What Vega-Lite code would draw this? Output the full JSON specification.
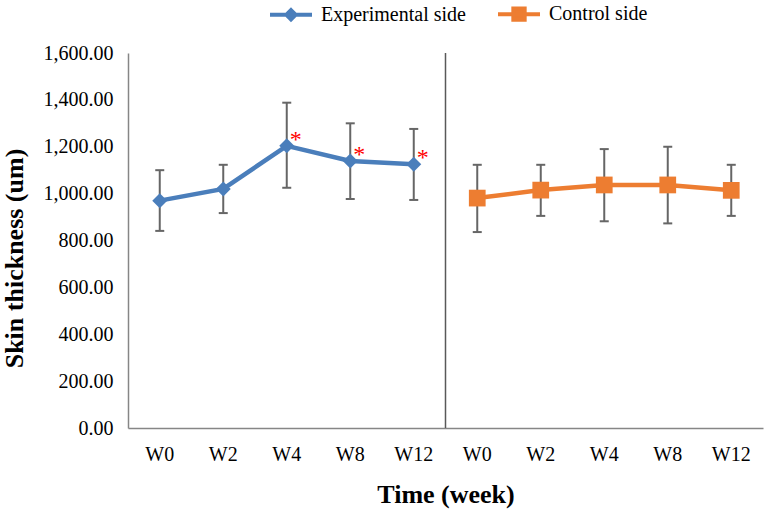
{
  "$schema": "https://vega.github.io/schema/vega-lite/v6.json",
  "width": 635,
  "height": 375,
  "autosize": "none",
  "padding": {"left": 128, "top": 53, "right": 4, "bottom": 87},
  "background": "white",
  "config": {
    "view": {"stroke": null},
    "font": "Liberation Serif",
    "axis": {
      "domainColor": "#868686",
      "domainWidth": 1.5,
      "ticks": false,
      "grid": false,
      "labelFont": "Liberation Serif",
      "labelFontSize": 20,
      "labelColor": "#000000",
      "titleFont": "Liberation Serif",
      "titleFontSize": 26,
      "titleFontWeight": "bold",
      "titleColor": "#000000"
    },
    "axisY": {"labelPadding": 15, "titlePadding": 16, "titleY": 205},
    "axisX": {"labelPadding": 16, "titlePadding": 17, "labelAngle": 0}
  },
  "data": {
    "values": [
      {"group": "Experimental side", "key": "E-W0", "week": "W0", "mean": 970, "lo": 841, "hi": 1100, "sig": ""},
      {"group": "Experimental side", "key": "E-W2", "week": "W2", "mean": 1020, "lo": 917, "hi": 1123, "sig": ""},
      {"group": "Experimental side", "key": "E-W4", "week": "W4", "mean": 1204, "lo": 1025, "hi": 1388, "sig": "*"},
      {"group": "Experimental side", "key": "E-W8", "week": "W8", "mean": 1139, "lo": 977, "hi": 1300, "sig": "*"},
      {"group": "Experimental side", "key": "E-W12", "week": "W12", "mean": 1125, "lo": 973, "hi": 1276, "sig": "*"},
      {"group": "Control side", "key": "C-W0", "week": "W0", "mean": 981, "lo": 836, "hi": 1123, "sig": ""},
      {"group": "Control side", "key": "C-W2", "week": "W2", "mean": 1015, "lo": 905, "hi": 1123, "sig": ""},
      {"group": "Control side", "key": "C-W4", "week": "W4", "mean": 1037, "lo": 882, "hi": 1190, "sig": ""},
      {"group": "Control side", "key": "C-W8", "week": "W8", "mean": 1037, "lo": 873, "hi": 1200, "sig": ""},
      {"group": "Control side", "key": "C-W12", "week": "W12", "mean": 1014, "lo": 905, "hi": 1123, "sig": ""}
    ]
  },
  "encoding": {
    "x": {
      "field": "key",
      "type": "ordinal",
      "title": "Time (week)",
      "scale": {
        "type": "band",
        "domain": ["E-W0", "E-W2", "E-W4", "E-W8", "E-W12", "C-W0", "C-W2", "C-W4", "C-W8", "C-W12"],
        "paddingInner": 0,
        "paddingOuter": 0
      },
      "axis": {"labelExpr": "slice(datum.label, 2)"}
    }
  },
  "layer": [
    {
      "transform": [{"filter": "datum.key === 'C-W0'"}],
      "mark": {"type": "rule", "color": "#595959", "strokeWidth": 1.5},
      "encoding": {
        "x": {"field": "key", "type": "ordinal", "bandPosition": 0}
      }
    },
    {
      "mark": {"type": "rule", "color": "#666666", "strokeWidth": 2},
      "encoding": {
        "y": {"field": "lo", "type": "quantitative", "title": "Skin thickness (um)", "scale": {"domain": [0, 1600], "nice": false}, "axis": {"format": ",.2f", "tickCount": 8}},
        "y2": {"field": "hi"}
      }
    },
    {
      "mark": {"type": "tick", "color": "#666666", "thickness": 2, "size": 9, "opacity": 1},
      "encoding": {
        "y": {"field": "lo", "type": "quantitative", "title": "Skin thickness (um)", "scale": {"domain": [0, 1600], "nice": false}, "axis": {"format": ",.2f", "tickCount": 8}}
      }
    },
    {
      "mark": {"type": "tick", "color": "#666666", "thickness": 2, "size": 9, "opacity": 1},
      "encoding": {
        "y": {"field": "hi", "type": "quantitative", "title": "Skin thickness (um)", "scale": {"domain": [0, 1600], "nice": false}, "axis": {"format": ",.2f", "tickCount": 8}}
      }
    },
    {
      "mark": {"type": "line", "strokeWidth": 4.5},
      "encoding": {
        "y": {"field": "mean", "type": "quantitative", "title": "Skin thickness (um)", "scale": {"domain": [0, 1600], "nice": false}, "axis": {"format": ",.2f", "tickCount": 8}},
        "color": {
          "field": "group",
          "type": "nominal",
          "scale": {"domain": ["Experimental side", "Control side"], "range": ["#4A7EBB", "#ED7D31"]},
          "legend": {
            "title": null,
            "orient": "none",
            "direction": "horizontal",
            "legendX": 140,
            "legendY": -62,
            "padding": 0,
            "columnPadding": 24,
            "labelOffset": 7,
            "labelFont": "Liberation Serif",
            "labelFontSize": 20,
            "labelColor": "#000000",
            "symbolSize": 1764,
            "encode": {
              "symbols": {
                "update": {
                  "shape": {"signal": "datum.value === 'Experimental side' ? 'M-1,0H1M0,-0.22L0.22,0L0,0.22L-0.22,0Z' : 'M-1,0H1M-0.27,-0.27H0.27V0.27H-0.27Z'"},
                  "stroke": {"signal": "datum.value === 'Experimental side' ? '#4A7EBB' : '#ED7D31'"},
                  "fill": {"signal": "datum.value === 'Experimental side' ? '#4A7EBB' : '#ED7D31'"},
                  "strokeWidth": {"value": 4},
                  "size": {"value": 1764},
                  "opacity": {"value": 1}
                }
              }
            }
          }
        }
      }
    },
    {
      "transform": [{"filter": "datum.group === 'Experimental side'"}],
      "mark": {"type": "point", "shape": "diamond", "filled": true, "size": 225, "opacity": 1},
      "encoding": {
        "y": {"field": "mean", "type": "quantitative", "title": "Skin thickness (um)", "scale": {"domain": [0, 1600], "nice": false}, "axis": {"format": ",.2f", "tickCount": 8}},
        "color": {"field": "group", "type": "nominal", "scale": {"domain": ["Experimental side", "Control side"], "range": ["#4A7EBB", "#ED7D31"]}}
      }
    },
    {
      "transform": [{"filter": "datum.group === 'Control side'"}],
      "mark": {"type": "point", "shape": "square", "filled": true, "size": 280, "opacity": 1},
      "encoding": {
        "y": {"field": "mean", "type": "quantitative", "title": "Skin thickness (um)", "scale": {"domain": [0, 1600], "nice": false}, "axis": {"format": ",.2f", "tickCount": 8}},
        "color": {"field": "group", "type": "nominal", "scale": {"domain": ["Experimental side", "Control side"], "range": ["#4A7EBB", "#ED7D31"]}}
      }
    },
    {
      "transform": [{"filter": "datum.sig === '*'"}],
      "mark": {"type": "text", "color": "#FF0000", "fontSize": 24, "font": "Liberation Serif", "align": "center", "baseline": "middle", "dx": 9, "dy": -6},
      "encoding": {
        "y": {"field": "mean", "type": "quantitative", "title": "Skin thickness (um)", "scale": {"domain": [0, 1600], "nice": false}, "axis": {"format": ",.2f", "tickCount": 8}},
        "text": {"field": "sig"}
      }
    }
  ]
}
